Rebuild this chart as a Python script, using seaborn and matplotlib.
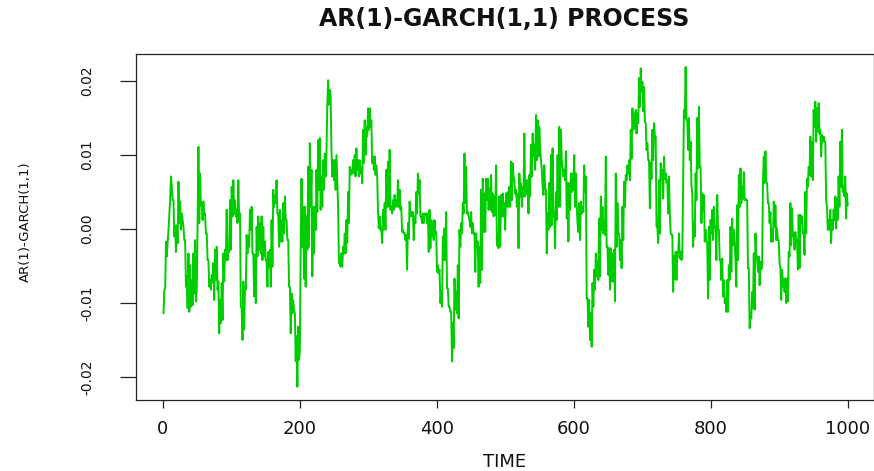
import numpy as np
import pandas as pd
import matplotlib
matplotlib.use("Agg")
import matplotlib.pyplot as plt
import seaborn as sns

# ---- data (in units of 1e-3) ----
seg1 = [-11.4, -8.2, -8.0, -1.7, -3.7, -1.7, -0.1, 1.9, 4.0, 7.1,
        5.7, 3.9, 3.9, -1.0, 0.5, -3.1, 0.5, -1.9, 6.4, 0.8,
        3.7, -0.1, 2.1, 1.2, 0.3, -1.5, -1.5, -7.8, -6.4, -10.7,
        -3.3, -11.2, -4.9, -10.5, -6.9, -10.3, -3.3, -8.7, -1.5, -9.8,
        -8.2, 0.8, 11.1, 0.8, 7.5, 3.2, 3.5, 1.2, 3.7, 1.9,
        2.1, -0.6, -0.6, -4.2, -4.2, -7.8, -6.9, -8.2, -6.2, -7.1,
        -4.6, -9.6, -2.8, -6.9, -2.4, -8.2, -7.1, -14.1, -9.6, -12.7,
        -7.3, -12.3, -3.3, -7.1, -2.8, -4.2, 2.6, -4.2, -2.6, -3.1,
        3.9, -2.8, 5.7, 1.7, 6.6, 2.1, 3.9, 1.7, 2.6, 0.8,
        6.6, 1.2, 2.1, -10.5, -10.7, -15.0, -7.1, -13.6, -7.8, -8.2,
        -0.8, -3.3, -1.0, -2.4, 2.6, -0.1, 3.0, -3.3, -3.3, -9.1,
        -3.5, -10.0, 0.3, -3.7, 1.7, -2.8, 0.8, -3.3, 1.7, -4.2,
        0.3, -3.7, -1.7, -4.2, -4.2, -7.8, -3.1, -5.1]

seg2 = [-2.8, -7.8, 1.2, -5.1, 5.3, 3.0, 4.4, 3.5, 6.6, 2.1,
        2.1, -2.4, 2.6, -1.7, 1.2, -1.7, 3.5, -0.6, 4.4, 1.2,
        1.2, -1.5, -1.5, -7.8, -7.8, -14.1, -8.7, -11.4, -9.6, -11.0,
        -11.4, -17.9, -14.5, -21.3, -13.2, -17.7, -16.4, -2.6, 6.8, -2.4,
        3.0, -6.7, 3.0, -7.8, 1.7, -2.8, 8.4, -2.4, 11.6, 3.0,
        8.0, -6.4, 3.0, -3.3, 3.0, -0.1, 8.0, 2.3, 12.0, 5.3,
        12.3, 2.6, 7.1, 3.0, 9.3, 5.3, 10.2, 7.1, 10.2, 16.8,
        20.1, 16.8, 18.8, 18.1, 10.7, 7.1, 9.3, 6.6, 9.3, 5.3,
        10.0, 6.6, 3.0, -4.6, -4.6, -5.1, -3.3, -5.1, -2.4, -3.3,
        -0.6, -3.3, 1.2, -1.9, 5.0, 0.8, 8.4, 7.3, 8.0, 7.5,
        9.3, 7.5, 10.0, 7.1, 10.9, 8.0, 9.3, 7.1, 9.3, 7.5,
        8.4, 6.2, 13.4, 8.9, 14.7, 10.0, 13.8, 12.5, 16.3, 13.4,
        16.3, 13.8, 14.7, 8.9, 9.8, 8.0, 9.8, 7.3, 8.6, 7.3,
        2.3, 0.1, 1.7, -0.1, 0.1, -1.9, 2.6, -0.1]

seg3 = [3.5, -0.1, 8.0, 3.0, 9.1, 3.0, 10.7, 2.6, 3.0, 2.1,
        3.9, 2.6, 4.6, 3.0, 3.9, 3.0, 6.6, 3.0, 5.3, 2.6,
        3.0, -0.4, -0.1, -0.6, -0.6, -1.5, -0.8, -5.5, 0.8, -1.3,
        3.7, 1.7, 2.3, 1.7, 2.3, -1.5, 1.7, 0.8, 5.0, 2.1,
        7.5, 4.8, 6.6, 1.7, 1.7, 0.8, 2.1, 0.8, 2.1, 1.9,
        2.1, 0.8, 2.1, -3.1, 2.6, -2.6, 1.2, -1.0, 1.0, -1.5,
        1.2, -0.6, -0.4, -5.8, -4.9, -6.0, -5.5, -10.0, -8.7, -10.5,
        -1.0, -4.2, 0.1, -4.2, 2.3, -8.0, -8.0, -10.5, -10.5, -11.2,
        -11.2, -17.9, -12.7, -16.1, -6.7, -10.9, -8.5, -11.4, -4.9, -12.1,
        -0.1, -2.4, 0.8, -0.6, 3.5, 2.1, 10.2, 3.5, 8.4, 2.1,
        2.3, 1.7, 1.2, 0.3, 2.3, -0.6, 0.8, -0.6, -0.6, -5.8,
        -0.6, -2.2, -1.7, -7.8, -2.4, -7.3, 5.3, -5.5, 6.8, -0.4,
        4.8, -0.4, 6.8, 3.9, 6.8, 2.6, 5.5, 2.6, 7.3, 2.3,
        4.8, 1.7, 4.4, 1.9, 8.6, -2.2, -2.2, -2.6]

seg4 = [4.4, -2.4, 4.6, 1.7, 4.8, 1.7, 3.5, -0.1, 4.8, 3.0,
        5.0, 3.0, 5.7, 3.0, 9.1, 3.9, 8.9, 7.1, 6.6, 4.8,
        5.3, 3.0, 4.8, -2.6, 7.5, 4.4, 6.2, 3.0, 5.7, 4.4,
        12.9, 4.4, 6.6, 4.8, 6.6, 2.1, 7.3, 4.4, 11.4, 7.1,
        12.9, 9.8, 11.4, 8.0, 15.4, 9.3, 14.7, 9.8, 13.8, 11.1,
        9.3, 8.0, 5.7, 4.6, 8.6, 5.5, 5.3, -3.3, 2.1, -0.1,
        6.2, 0.3, 10.0, 0.5, 10.9, 1.7, 2.3, -2.6, 5.0, 1.2,
        10.0, 3.0, 13.8, 3.0, 13.4, 9.3, 8.4, 7.1, 8.0, 6.6,
        10.5, 1.4, 6.2, -1.7, 6.2, 2.6, 7.5, 5.0, 7.5, 5.3,
        10.0, 3.0, 7.5, 3.0, 0.8, -0.4, 3.5, -1.5, 3.7, 2.1,
        3.0, 2.3, 8.6, 5.0, 7.1, -9.4, -9.4, -13.2, -9.6, -15.0,
        -11.4, -15.9, -7.3, -10.5, -5.5, -8.2, -3.3, -6.4, -4.4, -6.9,
        1.4, -6.4, 4.4, -0.1, 3.0, -0.6, 1.0, -0.8, 9.8, -2.4,
        -2.4, -6.2, -2.6, -8.2, -2.6, -7.1]

seg5 = [-3.3, -7.1, -2.8, -9.8, 7.5, -2.4, 3.5, -0.6, -0.6, -4.2,
        -1.5, -5.3, 3.0, -1.5, 6.4, 3.0, 7.3, 6.6, 8.6, 7.5,
        9.3, 6.6, 13.4, 9.5, 16.3, 13.4, 15.6, 13.6, 16.1, 12.9,
        15.6, 14.3, 20.4, 16.5, 21.7, 18.6, 19.9, 15.9, 19.2, 14.5,
        14.3, 10.7, 11.6, 9.3, 9.3, 2.8, 8.9, 6.8, 13.4, 9.3,
        14.3, 12.7, 12.5, 0.3, 0.3, -1.9, 6.6, -0.6, 8.9, 7.5,
        8.0, 4.1, 9.8, 6.8, 7.5, 6.2, 6.6, 2.1, 7.1, 2.1,
        -0.6, -0.8, -0.8, -8.5, -3.7, -6.7, -3.1, -6.9, -3.1, -3.7,
        -0.6, -4.0, -3.1, -4.2, -3.7, 6.8, 16.1, 15.0, 21.9, 14.7,
        14.7, 10.7, 15.0, 9.3, 11.8, 5.9, 4.8, -2.4, 0.8, -1.0,
        7.5, 3.9, 15.0, 8.2, 16.5, 8.4, 8.4, 0.8, 4.8, 2.6,
        4.6, -1.7, -0.1, -1.7, -1.9, -9.4, 0.3, -6.9, 1.2, -0.6,
        2.6, -1.5, 3.0, 0.3, 0.3, -4.2, 4.6, -0.1, -0.1, -4.2,
        -4.2, -6.9, -4.0, -9.1, -6.9, -10.0, -9.4, -11.2]

seg6 = [-6.9, -11.2, -4.9, -6.9, 0.3, -5.8, 1.4, -2.2, -0.1, -1.9,
        -4.2, -7.8, 3.2, -4.2, 7.3, 3.0, 8.2, 3.5, 5.7, 4.1,
        7.7, 3.9, 4.1, 3.9, 3.9, -5.3, -5.3, -13.4, -11.4, -12.1,
        -8.5, -10.7, -3.3, -10.9, -0.6, -3.7, -3.7, -5.8, -3.7, -7.6,
        -4.4, -5.5, -4.9, 6.2, 9.8, 6.2, 10.5, 6.4, 6.2, 3.5,
        3.5, 0.8, 2.3, -1.7, -0.1, -1.7, 3.7, 0.3, 3.2, -1.5,
        0.1, -1.5, -1.5, -4.6, -5.3, -9.6, -5.5, -7.8, -6.7, -8.5,
        -6.7, -10.0, -6.7, -9.8, -3.1, -3.7, 3.5, -2.2, 2.8, -1.0,
        -0.6, -2.8, -0.4, -1.7, -1.5, -5.5, 1.9, -5.3, 1.9, 0.8,
        1.7, -0.6, -0.6, -3.5, 5.0, -0.6, 6.8, 5.7, 8.4, 7.3,
        12.5, 7.1, 11.8, 6.6, 16.1, 13.8, 17.2, 11.8, 16.3, 13.2,
        17.0, 12.9, 13.4, 9.8, 12.7, 11.8, 12.5, 11.8, 11.8, 3.9,
        3.0, -0.1, 1.2, -0.1, 2.6, -1.9, 1.2, -0.1, 2.6, 1.2,
        4.4, 0.1, 4.1, 1.2, 7.1, 3.0, 11.8, 5.7, 13.4, 5.0,
        5.7, 4.4, 7.1, 1.4, 4.8, 3.2]

value_unit = 1e-3
title_text = "AR(1)-GARCH(1,1) PROCESS"
x_label = "TIME"
y_label = "AR(1)-GARCH(1,1)"
x_ticks = [0, 200, 400, 600, 800, 1000]
x_tick_labels = ["0", "200", "400", "600", "800", "1000"]
y_ticks = [-0.02, -0.01, 0.00, 0.01, 0.02]
y_tick_labels = ["-0.02", "-0.01", "0.00", "0.01", "0.02"]

values = np.concatenate([seg1, seg2, seg3, seg4, seg5, seg6]) * value_unit
time_index = np.linspace(1, 1000, len(values))
df = pd.DataFrame({"TIME": time_index, "value": values})

# ---- style ----
sns.set_theme(style="white")
plt.rcParams["font.family"] = ["DejaVu Sans"]

W, H = 874, 471
fig = plt.figure(figsize=(W / 100, H / 100), dpi=100)
left_px, right_px, top_px, bottom_px = 135.7, 873.5, 54.0, 400.0
ax = fig.add_axes([left_px / W, (H - bottom_px) / H,
                   (right_px - left_px) / W, (bottom_px - top_px) / H])

sns.lineplot(data=df, x="TIME", y="value", ax=ax, color="#00CD00",
             linewidth=1.4, estimator=None, sort=False)

ax.set_xlim(-39.6, 1037.6)
ax.set_ylim(-0.023108, 0.023649)

ax.set_xticks(x_ticks)
ax.set_xticklabels(x_tick_labels)
ax.set_yticks(y_ticks)
ax.set_yticklabels(y_tick_labels, rotation=90, va="center", ha="right")

edge = "#222222"
for sp in ax.spines.values():
    sp.set_visible(True)
    sp.set_color(edge)
    sp.set_linewidth(0.9)

ax.tick_params(axis="x", which="major", direction="out", length=5.8, width=0.9,
               color=edge, labelsize=13, labelcolor="#111111", pad=8.3,
               bottom=True)
ax.tick_params(axis="y", which="major", direction="out", length=11.5, width=0.9,
               color=edge, labelsize=10, labelcolor="#111111", pad=18.5,
               left=True)

ax.set_xlabel(x_label, fontsize=13, color="#111111")
ax.set_ylabel(y_label, fontsize=9.5, color="#111111")
ax.xaxis.set_label_coords(0.5, (bottom_px - 461.7) / (bottom_px - top_px))
ax.xaxis.label.set_va("center")
ax.yaxis.set_label_coords((25 - left_px) / (right_px - left_px), 0.515)
ax.yaxis.label.set_va("center")

ax.set_title(title_text, fontsize=17, fontweight="bold", color="#111111",
             y=(bottom_px - 19) / (bottom_px - top_px), va="center", pad=0)

ax.grid(False)
ax.set_facecolor("white")
fig.patch.set_facecolor("white")

fig.savefig("out.png", dpi=100)
